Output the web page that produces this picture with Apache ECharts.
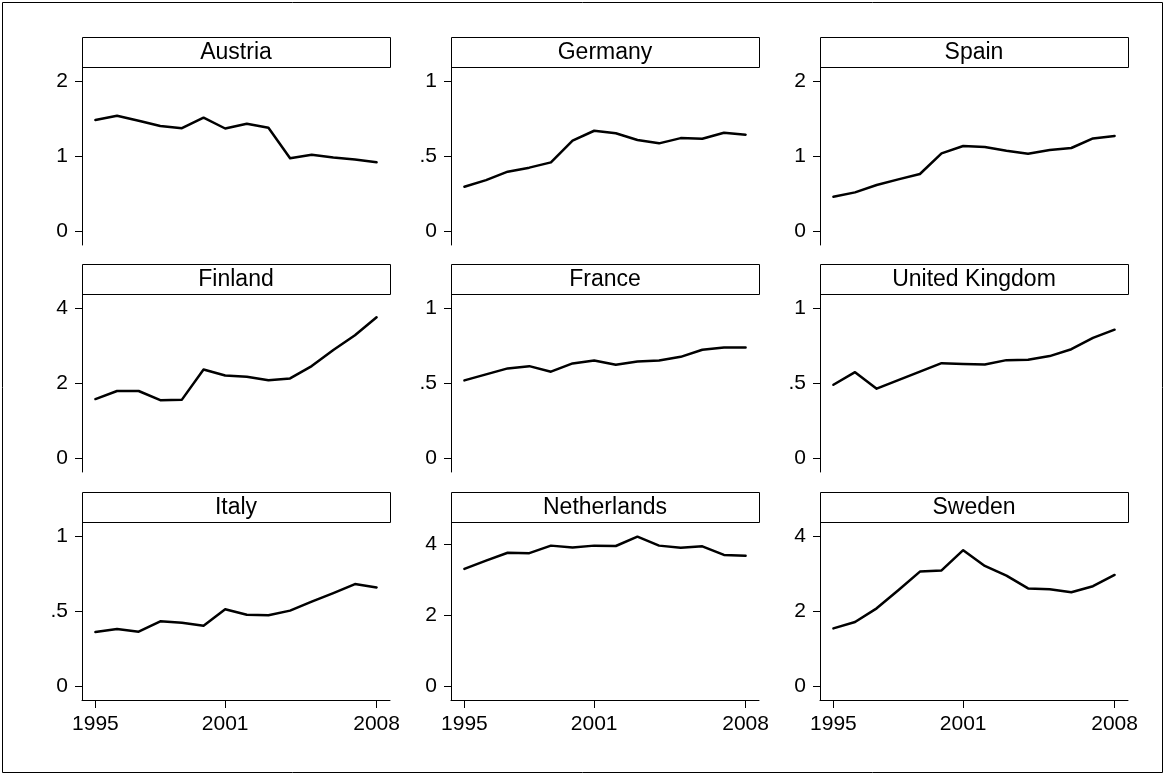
<!DOCTYPE html>
<html><head><meta charset="utf-8">
<script src="https://cdn.jsdelivr.net/npm/echarts@6/dist/echarts.min.js"></script>
<style>html,body{margin:0;padding:0;background:#fff}#c{width:1165px;height:775px}</style>
</head><body><div id="c"></div><script>
const years = [1995,1996,1997,1998,1999,2000,2001,2002,2003,2004,2005,2006,2007,2008];
const countries = ['Austria','Germany','Spain','Finland','France','United Kingdom','Italy','Netherlands','Sweden'];
const austria     = [1.49,1.545,1.48,1.41,1.38,1.52,1.376,1.44,1.385,0.98,1.025,0.99,0.962,0.926];
const germany     = [0.30,0.344,0.40,0.427,0.462,0.607,0.673,0.656,0.611,0.589,0.624,0.62,0.66,0.647];
const spain       = [0.467,0.524,0.622,0.698,0.769,1.044,1.142,1.129,1.08,1.04,1.089,1.116,1.244,1.276];
const finland     = [1.59,1.805,1.805,1.56,1.575,2.38,2.22,2.186,2.09,2.14,2.47,2.90,3.29,3.77];
const france      = [0.522,0.562,0.602,0.617,0.58,0.635,0.655,0.626,0.648,0.655,0.679,0.726,0.741,0.741];
const unitedKingdom = [0.493,0.577,0.467,0.524,0.58,0.637,0.631,0.628,0.657,0.659,0.684,0.73,0.805,0.86];
const italy       = [0.364,0.384,0.367,0.436,0.427,0.407,0.516,0.48,0.476,0.507,0.567,0.624,0.684,0.662];
const netherlands = [3.30,3.53,3.75,3.74,3.95,3.90,3.95,3.94,4.20,3.95,3.89,3.93,3.69,3.67];
const sweden      = [1.556,1.724,2.09,2.57,3.07,3.10,3.64,3.22,2.96,2.62,2.60,2.52,2.68,2.98];
const seriesValues = [austria,germany,spain,finland,france,unitedKingdom,italy,netherlands,sweden];
const yTickStep = [1,0.5,1,2,0.5,0.5,0.5,2,2];
const xTickLabels = [1995,2001,2008];

const FONT = '"Liberation Sans", Arial, sans-serif';
const colLeft = [82, 451, 820];
const rowTop = [37, 264, 492];
const panelW = 308, stripH = 30, plotH = 178;

const grids = [], xAxes = [], yAxes = [], series = [], graphics = [];
graphics.push({type:'rect', shape:{x:2.5,y:2.5,width:1160,height:770}, style:{fill:'none',stroke:'#000',lineWidth:1}, silent:true});

countries.forEach((name, i) => {
  const r = Math.floor(i/3), c = i%3;
  const left = colLeft[c], top = rowTop[r];
  grids.push({left: left, top: top + stripH, width: panelW, height: plotH, containLabel:false});
  const bottomRow = r === 2;
  xAxes.push({
    type:'value', gridIndex:i, min:1994.38, max:2008.62,
    splitLine:{show:false},
    axisLine:{show:bottomRow, onZero:false, lineStyle:{color:'#000', width:1}},
    axisTick:{show:bottomRow, length:8, customValues:xTickLabels, lineStyle:{color:'#000'}},
    axisLabel:{show:bottomRow, customValues:xTickLabels, margin:14, fontSize:21, color:'#000', fontFamily:FONT, formatter: v => String(v)}
  });
  const step = yTickStep[i];
  const vals = seriesValues[i];
  const R = Math.max(2*step, Math.max(...vals));
  const yt = [0, step, 2*step];
  yAxes.push({
    type:'value', gridIndex:i, min: -0.0887*R, max: R*1.098,
    splitLine:{show:false},
    axisLine:{show:true, onZero:false, lineStyle:{color:'#000', width:1}},
    axisTick:{show:true, length:7, customValues:yt, lineStyle:{color:'#000'}},
    axisLabel:{show:true, customValues:yt, margin:14, fontSize:21, color:'#000', fontFamily:FONT,
      formatter: v => String(+v.toFixed(2)).replace(/^0\./,'.')}
  });
  series.push({
    type:'line', xAxisIndex:i, yAxisIndex:i, showSymbol:false, symbol:'none', animation:false,
    lineStyle:{color:'#000', width:2.5, cap:'round', join:'round'},
    data: years.map((y,k) => [y, vals[k]])
  });
  graphics.push({type:'rect', shape:{x:left+0.5, y:top+0.5, width:panelW, height:stripH}, style:{fill:'#fff', stroke:'#000', lineWidth:1}, silent:true});
  graphics.push({type:'text', x:left+panelW/2, y:top+stripH/2+1, style:{text:name, align:'center', verticalAlign:'middle', font:'23px ' + FONT, fill:'#000'}, silent:true});
});

const chart = echarts.init(document.getElementById('c'), null, {renderer:'canvas'});
chart.setOption({
  backgroundColor:'#fff', animation:false,
  grid:grids, xAxis:xAxes, yAxis:yAxes, series:series, graphic:graphics
});
</script></body></html>
